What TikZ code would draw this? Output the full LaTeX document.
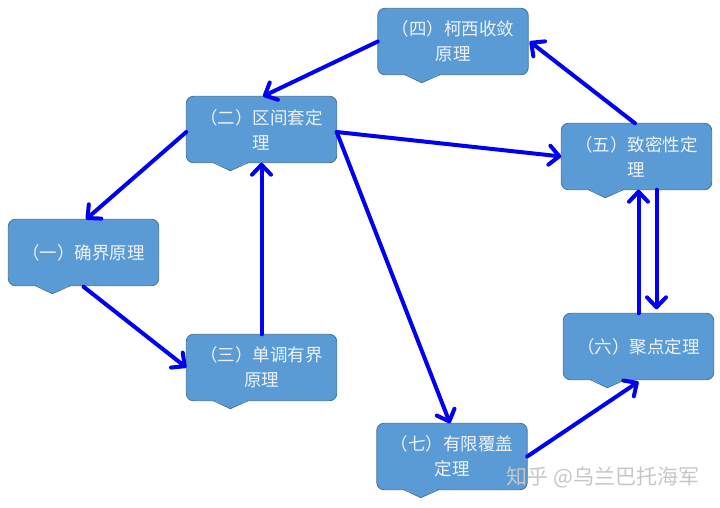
\documentclass[tikz,border=0pt]{standalone}
\usepackage{fontspec}
\newfontfamily\cjk{Noto Sans CJK SC}
\usetikzlibrary{arrows.meta,backgrounds}
\definecolor{thmfill}{RGB}{91,155,213}
\definecolor{thmborder}{RGB}{65,113,156}
\definecolor{thmtext}{RGB}{236,242,250}
\definecolor{linkblue}{RGB}{0,0,245}

\begin{document}
\begin{tikzpicture}[x=1pt,y=-1pt]
\tikzset{thm/.style={minimum width=150pt, minimum height=66pt, inner sep=0pt, align=center,
          text=thmtext, font=\cjk\fontsize{17.5}{25}\selectfont},
        thmbox/.style={draw=thmborder, fill=thmfill, line width=0.8pt, rounded corners=7pt},
        link/.style={draw=linkblue, line width=4pt, line cap=round,
          -{Straight Barb[length=10pt,width=19pt,round]}}}
        \useasboundingbox (0,0) rectangle (720,507);

        % theorems
        \node[thm] (n1) at (83.5,252.5) {（一）确界原理};
        \node[thm] (n2) at (261.5,129.5) {（二）区间套定\\理};
        \node[thm] (n3) at (261.5,367.5) {（三）单调有界\\原理};
        \node[thm] (n4) at (453,41.5) {（四）柯西收敛\\原理};
        \node[thm] (n5) at (636.5,156.5) {（五）致密性定\\理};
        \node[thm] (n6) at (638.5,346.5) {（六）聚点定理};
        \node[thm] (n7) at (452,456.5) {（七）有限覆盖\\定理};

        % callout boxes behind the text
        \begin{scope}[on background layer]
        \foreach \n in {n1,n2,n3,n4,n5,n6,n7}{
            \draw[thmbox] (\n.south west) rectangle (\n.north east);
            \fill[thmfill] ([xshift=27pt,yshift=0.9pt]\n.south west) -- ([xshift=44pt,yshift=-8pt]\n.south west)
                -- ([xshift=62pt,yshift=0.9pt]\n.south west) -- cycle;
            \draw[thmborder, line width=0.8pt] ([xshift=27pt]\n.south west) -- ([xshift=44pt,yshift=-8pt]\n.south west)
                -- ([xshift=62pt]\n.south west);
        }
        \end{scope}

        % implications
        \draw[link] (n4.west) -- ([xshift=1.5pt]n2.north);
        \draw[link] ([xshift=-1.5pt]n5.north) -- ([xshift=1.5pt]n4.east);
        \draw[link] ([yshift=-2.5pt]n2.east) -- (n5.west);
        \draw[link] ([yshift=-2.5pt]n2.east) -- ([xshift=-2pt]n7.north);
        \draw[link] ([yshift=-2.5pt]n2.west) -- ([xshift=2.5pt]n1.north);
        \draw[link] ([yshift=-1pt]n1.south) -- (n3.west);
        \draw[link] (n3.north) -- (n2.south);
        \draw[link] (n7.east) -- ([yshift=-2pt]n6.south);
        \draw[link] (n6.north) -- (n6.north |- n5.south);
        \draw[link] ([xshift=20pt]n5.south) -- ([xshift=18pt,yshift=4pt]n6.north);

        \node[anchor=west, text=gray!45, font=\cjk\fontsize{21}{21}\selectfont] (mark) at (503,477) {知乎 @乌兰巴托海军};
\end{tikzpicture}
\end{document}
